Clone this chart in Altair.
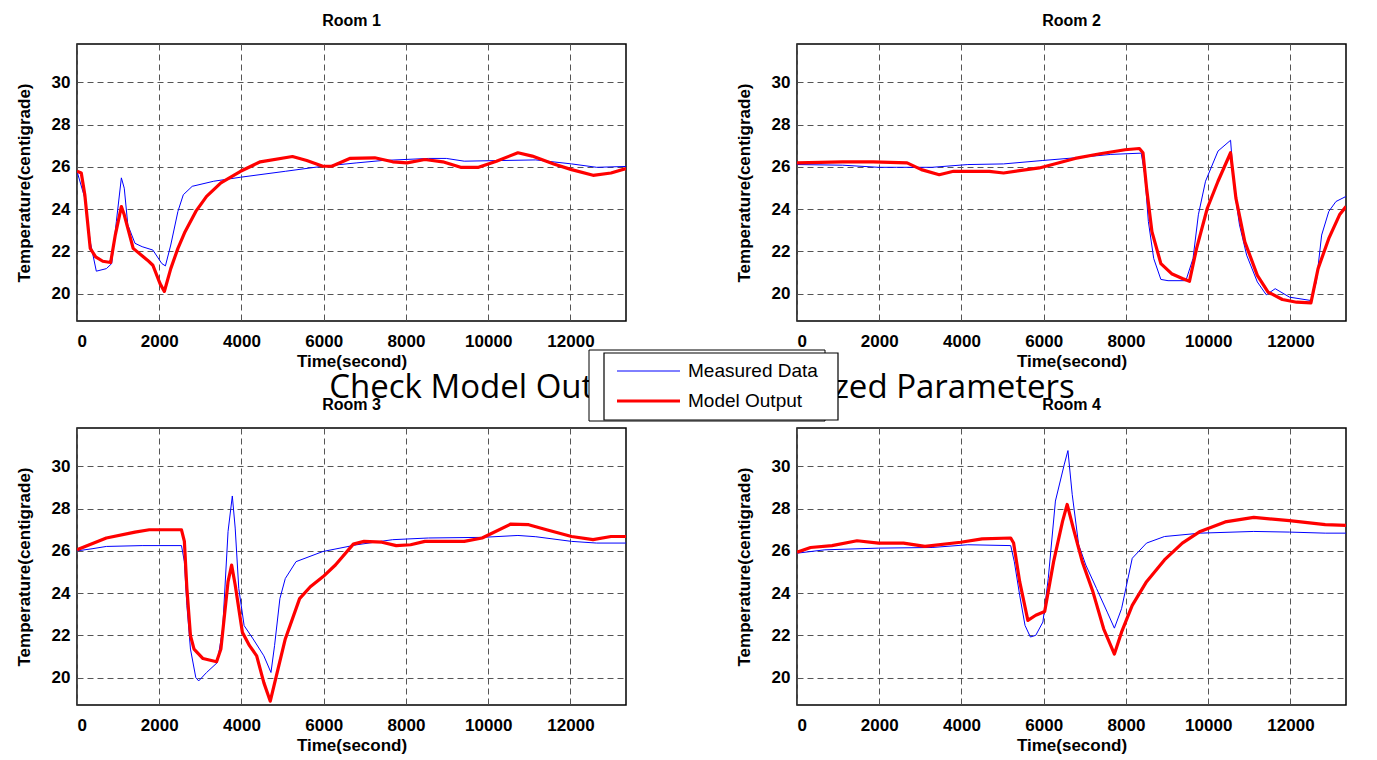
import altair as alt
import pandas as pd

rooms = ["Room 1", "Room 2", "Room 3", "Room 4"]
series_names = ["Measured Data", "Model Output"]
series_colors = ["#0000ff", "#ff0000"]
series_widths = [1.0, 3.2]
main_title = "Check Model Output with Optimized Parameters"
x_ticks = [0, 2000, 4000, 6000, 8000, 10000, 12000]
y_ticks = [20, 22, 24, 26, 28, 30]

# Room 1
r1_meas_t = [0, 190, 322, 470, 714, 844, 957, 1079, 1149, 1236, 1410, 1584, 1845, 2063, 2150, 2280, 2454, 2585, 2802, 3325, 3977, 5065, 5979, 6806, 7415, 8546, 8981, 9416, 10287, 11157, 12027, 12637, 13350]
r1_meas_y = [25.79, 24.52, 22.45, 21.06, 21.18, 21.42, 23.41, 25.48, 24.99, 23.25, 22.38, 22.22, 22.06, 21.42, 21.31, 22.30, 23.89, 24.68, 25.08, 25.32, 25.51, 25.79, 26.03, 26.19, 26.30, 26.40, 26.40, 26.27, 26.30, 26.33, 26.14, 25.98, 26.02]
r1_model_t = [0, 104, 190, 322, 453, 627, 818, 931, 1079, 1149, 1366, 1714, 1845, 2019, 2124, 2280, 2454, 2628, 2889, 3151, 3499, 3977, 4456, 5239, 5587, 5979, 6197, 6632, 7241, 7676, 8024, 8459, 8894, 9329, 9764, 10200, 10722, 11070, 11592, 12027, 12549, 12985, 13350]
r1_model_y = [25.79, 25.71, 24.68, 22.14, 21.74, 21.53, 21.47, 22.77, 24.12, 23.73, 22.14, 21.58, 21.34, 20.47, 20.10, 21.18, 22.14, 22.93, 23.89, 24.60, 25.24, 25.79, 26.24, 26.49, 26.30, 26.03, 26.03, 26.40, 26.43, 26.24, 26.19, 26.35, 26.24, 25.98, 25.98, 26.27, 26.67, 26.51, 26.14, 25.87, 25.60, 25.71, 25.92]

# Room 2
r2_meas_t = [0, 1112, 1981, 2416, 3285, 4154, 5023, 5962, 6762, 7631, 8370, 8457, 8544, 8674, 8848, 9022, 9456, 9630, 9760, 9934, 10238, 10543, 10630, 10760, 10934, 11194, 11412, 11629, 11977, 12497, 12628, 12758, 12932, 13106, 13350]
r2_meas_y = [26.11, 26.08, 25.98, 25.98, 25.98, 26.11, 26.14, 26.30, 26.43, 26.59, 26.65, 25.63, 23.41, 21.66, 20.67, 20.61, 20.61, 21.66, 23.73, 25.32, 26.75, 27.26, 25.00, 23.25, 21.82, 20.55, 19.94, 20.23, 19.83, 19.67, 20.55, 22.77, 23.89, 24.36, 24.60]
r2_model_t = [0, 1112, 1851, 2677, 3025, 3459, 3807, 4676, 5023, 5893, 6762, 7370, 7978, 8326, 8413, 8500, 8631, 8848, 9109, 9370, 9543, 9717, 9977, 10238, 10543, 10673, 10890, 11194, 11455, 11803, 12150, 12497, 12671, 12932, 13193, 13350]
r2_model_y = [26.19, 26.24, 26.24, 26.19, 25.87, 25.63, 25.79, 25.79, 25.71, 25.95, 26.40, 26.62, 26.81, 26.87, 26.67, 25.00, 22.93, 21.42, 20.94, 20.71, 20.58, 22.14, 24.04, 25.32, 26.67, 24.52, 22.45, 20.86, 20.07, 19.72, 19.59, 19.56, 21.18, 22.61, 23.73, 24.12]

# Room 3
r3_meas_t = [0, 366, 714, 1584, 2541, 2611, 2672, 2759, 2889, 2959, 3151, 3412, 3542, 3673, 3777, 3847, 3934, 4064, 4282, 4543, 4717, 4804, 4934, 5065, 5326, 5979, 6806, 7676, 8546, 9852, 10722, 11157, 12027, 12637, 13350]
r3_meas_y = [26.00, 26.10, 26.21, 26.25, 26.25, 25.49, 23.42, 21.35, 20.00, 19.84, 20.24, 20.71, 22.31, 26.92, 28.60, 27.08, 24.22, 22.46, 21.83, 21.03, 20.24, 21.51, 23.74, 24.69, 25.49, 25.97, 26.29, 26.53, 26.61, 26.64, 26.73, 26.67, 26.45, 26.37, 26.37]
r3_model_t = [0, 714, 1410, 1758, 2541, 2611, 2672, 2759, 2846, 3064, 3394, 3499, 3673, 3760, 3847, 4021, 4195, 4369, 4543, 4700, 4848, 5065, 5413, 5674, 5979, 6284, 6719, 6980, 7415, 7763, 8111, 8459, 9416, 9852, 10548, 10983, 11418, 12027, 12549, 12985, 13350]
r3_model_y = [26.05, 26.61, 26.89, 27.00, 27.00, 26.45, 24.22, 21.99, 21.35, 20.90, 20.75, 21.35, 24.54, 25.33, 24.38, 22.15, 21.51, 21.03, 19.76, 18.88, 20.08, 21.83, 23.74, 24.30, 24.77, 25.33, 26.32, 26.45, 26.41, 26.25, 26.29, 26.45, 26.45, 26.61, 27.27, 27.24, 27.00, 26.68, 26.53, 26.68, 26.68]

# Room 4
r4_meas_t = [0, 678, 1981, 3285, 4154, 5197, 5284, 5415, 5545, 5675, 5806, 5980, 6110, 6284, 6501, 6588, 6692, 6849, 7023, 7283, 7544, 7718, 7892, 8152, 8500, 8935, 9804, 11107, 11976, 12845, 13350]
r4_meas_y = [25.89, 26.05, 26.13, 26.16, 26.29, 26.25, 25.49, 23.90, 22.47, 21.92, 22.00, 22.63, 24.69, 28.36, 30.11, 30.75, 28.68, 26.29, 25.33, 24.22, 23.10, 22.34, 23.26, 25.65, 26.37, 26.68, 26.84, 26.92, 26.89, 26.84, 26.84]
r4_model_t = [0, 330, 852, 1460, 1981, 2590, 3111, 3980, 4502, 5197, 5267, 5415, 5614, 5806, 6023, 6240, 6457, 6570, 6718, 6936, 7196, 7457, 7718, 7892, 8152, 8500, 8935, 9370, 9804, 10412, 11107, 11976, 12845, 13350]
r4_model_y = [25.94, 26.16, 26.25, 26.48, 26.37, 26.37, 26.21, 26.41, 26.57, 26.61, 26.37, 24.54, 22.71, 22.95, 23.13, 25.49, 27.40, 28.20, 27.08, 25.49, 24.06, 22.31, 21.11, 22.15, 23.42, 24.54, 25.57, 26.37, 26.92, 27.37, 27.59, 27.43, 27.24, 27.21]

room_data = [
    (r1_meas_t, r1_meas_y, r1_model_t, r1_model_y),
    (r2_meas_t, r2_meas_y, r2_model_t, r2_model_y),
    (r3_meas_t, r3_meas_y, r3_model_t, r3_model_y),
    (r4_meas_t, r4_meas_y, r4_model_t, r4_model_y),
]

PW, PH = 549, 277


def make_lines(mt, my, ot, oy):
    df = pd.DataFrame({
        "t": list(mt) + list(ot),
        "temp": list(my) + list(oy),
        "series": [series_names[0]] * len(mt) + [series_names[1]] * len(ot),
    })
    return alt.Chart(df).mark_line(strokeJoin="round", clip=True).encode(
        x=alt.X("t:Q",
                scale=alt.Scale(domain=[0, 13350], nice=False, zero=False),
                axis=alt.Axis(values=x_ticks, title="Time(second)", format="d")),
        y=alt.Y("temp:Q",
                scale=alt.Scale(domain=[18.7, 31.82], nice=False, zero=False),
                axis=alt.Axis(values=y_ticks, title="Temperature(centigrade)", format="d")),
        color=alt.Color("series:N",
                        scale=alt.Scale(domain=series_names, range=series_colors),
                        legend=None),
        strokeWidth=alt.StrokeWidth("series:N",
                                    scale=alt.Scale(domain=series_names, range=series_widths),
                                    legend=None),
    )


def overlay_layers():
    # slide title (partly hidden behind the legend box) and the legend box,
    # positioned relative to the Room 1 plot area
    one = pd.DataFrame({"label": [main_title]})
    title_text = alt.Chart(one).mark_text(
        font="Open Sans", fontSize=33, align="center", baseline="middle", color="black"
    ).encode(text="label:N", x=alt.value(625), y=alt.value(344))
    back_box = alt.Chart(one).mark_rect(fill="white", stroke="black", strokeWidth=1).encode(
        x=alt.value(512), x2=alt.value(748), y=alt.value(306), y2=alt.value(377))
    box = alt.Chart(one).mark_rect(fill="white", stroke="black", strokeWidth=1.2).encode(
        x=alt.value(527), x2=alt.value(761), y=alt.value(309), y2=alt.value(376))
    layers = [title_text, back_box, box]
    for k, name in enumerate(series_names):
        yy = 327 + 30 * k
        lab = pd.DataFrame({"label": [name]})
        layers.append(alt.Chart(lab).mark_rule(
            color=series_colors[k], strokeWidth=series_widths[k]
        ).encode(x=alt.value(540), x2=alt.value(603), y=alt.value(yy)))
        layers.append(alt.Chart(lab).mark_text(
            font="Liberation Sans", fontSize=19, align="left", baseline="middle", color="black"
        ).encode(text="label:N", x=alt.value(611), y=alt.value(yy)))
    return layers


panels = []
for i, (mt, my, ot, oy) in enumerate(room_data):
    lines = make_lines(mt, my, ot, oy)
    if i == 0:
        p = alt.layer(lines, *overlay_layers())
    else:
        p = lines
    panels.append(p.properties(width=PW, height=PH, title=rooms[i]))

chart = alt.concat(*panels, columns=2, bounds="flush",
                   spacing={"row": 107, "column": 171}).configure_view(
    stroke="black", strokeWidth=1.5
).configure_axis(
    grid=True, gridDash=[6, 4], gridColor="#555555", gridWidth=1, gridOpacity=1,
    domain=False, ticks=False,
    labelFont="Liberation Sans", labelFontWeight="bold", labelFontSize=17, labelColor="black",
    titleFont="Liberation Sans", titleFontWeight="bold", titleFontSize=17, titleColor="black",
).configure_axisX(
    labelPadding=12, titlePadding=4
).configure_axisY(
    labelPadding=7, titlePadding=18
).configure_title(
    font="Liberation Sans", fontWeight="bold", fontSize=16, color="black", offset=15
).properties(padding={"left": 6, "top": 4, "right": 5, "bottom": 5})

chart.save("out.html", embed_options={"renderer": "svg", "actions": False})
